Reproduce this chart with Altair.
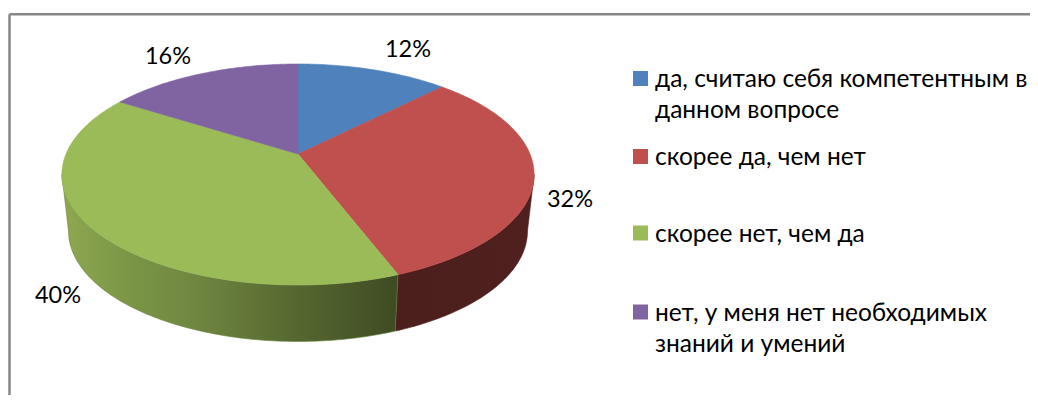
import numpy as np
import pandas as pd
import altair as alt

categories = ["да, считаю себя компетентным в\nданном вопросе", "скорее да, чем нет",
              "скорее нет, чем да", "нет, у меня нет необходимых\nзнаний и умений"]
shares = [12.4, 31.8, 39.8, 16.0]
labels = ["12%", "32%", "40%", "16%"]
colors = ["#4f81bd", "#c0504d", "#9bbb59", "#8064a2"]
label_x = [408, 570, 58, 168]
label_y = [57, 207, 303, 64]
legend_y = [78.5, 156.5, 233, 312]

FONT = "Lato"
FS_LEGEND = 24.5
FS_LABEL = 23.5
K = 0.1855

# perspective view of a tilted disc
def project(theta, bottom=False):
    X, Y = np.sin(theta), np.cos(theta)
    d = 1 + K * Y
    x = 232 * X / d
    y = (154 - 78.13 * Y) / d
    if bottom:
        return 298 + 0.972 * x, y + 56.5
    return 298 + x, y

cum = np.cumsum([0] + shares) / 100 * 2 * np.pi
right_ext = np.arccos(-K)
left_ext = 2 * np.pi - right_ext

def arc(a, b, bottom=False):
    n = max(int((b - a) * 60), 2)
    return project(np.linspace(a, b, n), bottom)

xs = alt.X("x:Q", scale=alt.Scale(domain=[8, 1030], nice=False, zero=False), axis=None)
ys = alt.Y("y:Q", scale=alt.Scale(domain=[395, 8], nice=False, zero=False), axis=None)

def poly(px, py, fill, stroke):
    df = pd.DataFrame({"x": px, "y": py, "i": np.arange(len(px))})
    return alt.Chart(df).mark_line(fill=fill, stroke=stroke, strokeWidth=0.6, interpolate="linear").encode(
        x=xs, y=ys, order="i:Q")

layers = []
# walls: only the part that faces the viewer
def wall(a, b, fill, stroke):
    tx, ty = arc(a, b)
    bx, by = arc(a, b, True)
    return poly(np.r_[tx, bx[::-1], tx[0]], np.r_[ty, by[::-1], ty[0]], fill, stroke)

red_wall = alt.Gradient(gradient="linear", x1=0, x2=1, y1=0, y2=0, stops=[
    alt.GradientStop(color="#4c1f1c", offset=0), alt.GradientStop(color="#4f201e", offset=1)])
green_wall = alt.Gradient(gradient="linear", x1=1, x2=0, y1=0, y2=0, stops=[
    alt.GradientStop(color="#3e4b23", offset=0), alt.GradientStop(color="#556730", offset=0.3),
    alt.GradientStop(color="#6d843f", offset=0.58), alt.GradientStop(color="#7f9a48", offset=0.85),
    alt.GradientStop(color="#8fa850", offset=1)])
layers.append(wall(right_ext, cum[2], red_wall, "#4f201e"))
layers.append(wall(cum[2], left_ext, green_wall, "#6d843f"))
# top faces
for i in range(4):
    tx, ty = arc(cum[i], cum[i + 1])
    layers.append(poly(np.r_[298, tx, 298], np.r_[154, ty, 154], colors[i], colors[i]))

# frame
frame = pd.DataFrame({"x": [9.5], "x2": [1030], "y": [14.3], "y2": [395]})
layers.append(alt.Chart(frame).mark_rule(color="#868686", strokeWidth=2.5).encode(x=xs, x2="x2:Q", y=ys))
layers.append(alt.Chart(frame).mark_rule(color="#868686", strokeWidth=2.5).encode(x=xs, y=ys, y2="y2:Q"))

# percent labels
lab = pd.DataFrame({"x": label_x, "y": label_y, "t": labels})
layers.append(alt.Chart(lab).mark_text(font=FONT, fontSize=FS_LABEL, color="#000000", baseline="alphabetic", align="center").encode(x=xs, y=ys, text="t:N"))

# legend
sq = pd.DataFrame({"x": [640.5] * 4, "y": legend_y, "c": colors})
layers.append(alt.Chart(sq).mark_square(size=225, opacity=1).encode(x=xs, y=ys, color=alt.Color("c:N", scale=None)))
rows = []
for c, ly in zip(categories, legend_y):
    for j, line in enumerate(c.split("\n")):
        rows.append({"x": 655, "y": ly + 8.5 + j * 31, "t": line})
layers.append(alt.Chart(pd.DataFrame(rows)).mark_text(font=FONT, fontSize=FS_LEGEND, color="#000000", baseline="alphabetic", align="left").encode(x=xs, y=ys, text="t:N"))

chart = alt.layer(*layers).properties(width=1022, height=387, padding=0,
    autosize=alt.AutoSizeParams(type="none")).configure_view(stroke=None)
chart.save("out.html", embed_options={"renderer": "svg", "actions": False})
